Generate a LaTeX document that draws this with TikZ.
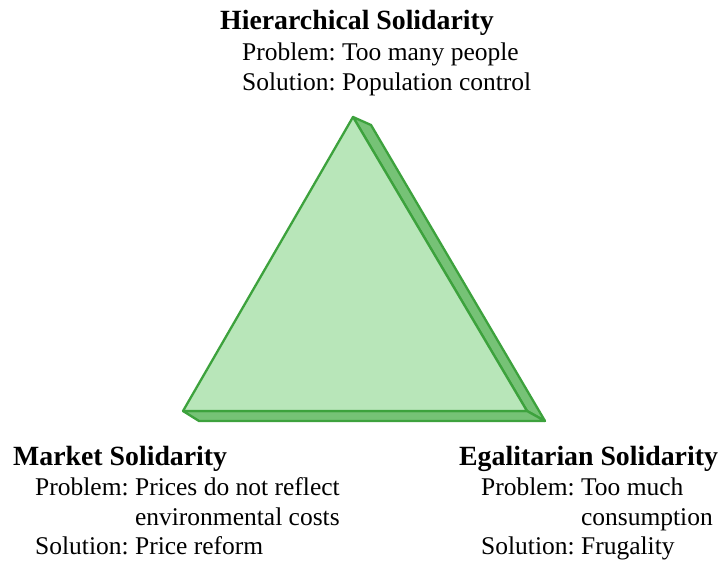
\documentclass[tikz,border=0pt]{standalone}
\usepackage{fontspec}
\setmainfont{Liberation Serif}
\frenchspacing
\begin{document}
\begin{tikzpicture}[x=1pt,y=-1pt,
  facefront/.style={fill=frontgreen,draw=edgegreen,line width=2.3pt,line join=round},
  faceside/.style={fill=sidegreen,draw=edgegreen,line width=2.3pt,line join=round},
  heading/.style={anchor=base west,inner sep=0pt,font=\fontsize{27.8}{30}\selectfont\bfseries},
  bodyline/.style={anchor=base west,inner sep=0pt,font=\fontsize{25.5}{30}\selectfont}]
\definecolor{frontgreen}{HTML}{B8E6B9}
\definecolor{sidegreen}{HTML}{76C276}
\definecolor{edgegreen}{HTML}{3DA23D}
\path[use as bounding box] (0,0) rectangle (722,561);

% corners of the prism
\coordinate (apex) at (353,117);
\coordinate (bl) at (183,411);
\coordinate (br) at (527,411);
\coordinate (apexback) at (371,125);
\coordinate (brback) at (545,421);
\coordinate (blback) at (199,421);

% side and bottom faces, then the front face
\draw[faceside] (apex) -- (apexback) -- (brback) -- (br) -- cycle;
\draw[faceside] (bl) -- (br) -- (brback) -- (blback) -- cycle;
\draw[facefront] (apex) -- (bl) -- (br) -- cycle;

% top label
\node[heading] (hierT) at (220,30) {Hierarchical Solidarity};
\node[bodyline] (hierP) at (242,61) {Problem: Too many people};
\node[bodyline] (hierS) at (242,91) {Solution: Population control};

% left label
\node[heading] (markT) at (13,465) {Market Solidarity};
\node[bodyline] (markP) at (35,495) {Problem: Prices do not reflect};
\node[bodyline] (markP2) at (35,525) {\hphantom{Problem: }environmental costs};
\node[bodyline] (markS) at (35,554) {Solution: Price reform};

% right label
\node[heading] (egalT) at (459,465) {Egalitarian Solidarity};
\node[bodyline] (egalP) at (481,495) {Problem: Too much};
\node[bodyline] (egalP2) at (481,525) {\hphantom{Problem: }consumption};
\node[bodyline] (egalS) at (481,554) {Solution: Frugality};
\end{tikzpicture}
\end{document}
